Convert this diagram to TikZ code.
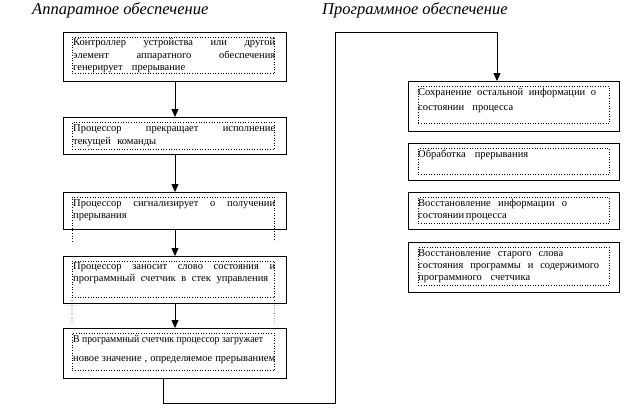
\documentclass[tikz,border=0pt]{standalone}
\usepackage{fontspec}
\usepackage{graphicx}
\setmainfont{Liberation Serif}
\usetikzlibrary{arrows.meta,calc}
\tikzset{
  obox/.style={draw, line width=1.1pt, anchor=north west, inner sep=0pt},
  dbox/.style={draw, dotted, line width=0.6pt, anchor=north west, inner sep=0pt},
  nbox/.style={anchor=north west, inner sep=0pt},
  txt/.style={anchor=north west, inner sep=0pt, font=\fontsize{10.5}{13}\selectfont, align=left},
  arr/.style={line width=0.8pt, -{Triangle[length=8pt,width=7pt]}},
  ttl/.style={font=\fontsize{16.5}{18}\selectfont\itshape, anchor=west, inner sep=0pt}
}
\newcommand\jl[2][202]{\makebox[#1pt][s]{#2}}
\newcommand\fitl[2]{\resizebox{#1pt}{\height}{#2}}
\begin{document}
\begin{tikzpicture}[x=1pt,y=-1pt]
\useasboundingbox (0,0) rectangle (625,408);
% titles
\node[ttl] (h1) at (32,10) {Аппаратное обеспечение};
\node[ttl] (h2) at (322,10) {Программное обеспечение};
% left column
\node[obox, minimum width=223pt, minimum height=49pt] (b1) at (63,32) {};
\node[dbox, minimum width=202pt, minimum height=36pt] (d1) at (72,37) {};
\node[txt] (t1) at (73,38.5) {\jl{Контроллер устройства или другой}\\[-0.5pt]\jl{элемент аппаратного обеспечения}\\[-0.5pt]\jl[112]{генерирует прерывание}};

\node[obox, minimum width=223pt, minimum height=37pt] (b2) at (63,117) {};
\node[dbox, minimum width=202pt, minimum height=27pt] (d2) at (72,122) {};
\node[txt] (t2) at (73,124) {\jl{Процессор прекращает исполнение}\\[0.5pt]\jl[83]{текущей команды}};

\node[obox, minimum width=223pt, minimum height=37pt] (b3) at (63,192) {};
\node[nbox, minimum width=202pt, minimum height=44pt] (d3) at (72,197) {};
\draw[dotted, line width=0.6pt] (d3.south west) -- (d3.north west) -- (d3.north east) -- (d3.south east);
\node[txt] (t3) at (73,199) {\jl{Процессор сигнализирует о получении}\\[-1pt]прерывания};

\node[obox, minimum width=223pt, minimum height=47pt] (b4) at (63,256) {};
\node[dbox, minimum width=202pt, minimum height=36pt] (d4) at (72,261) {};
\coordinate (e4l) at (72,324);
\coordinate (e4r) at (274,324);
\draw[dotted, line width=0.6pt] (d4.south west) -- (e4l) (d4.south east) -- (e4r);
\node[txt] (t4) at (73,262) {\jl{Процессор заносит слово состояния и}\\[-1pt]\jl[195]{программный счетчик в стек управления}};

\node[obox, minimum width=223pt, minimum height=50pt] (b5) at (63,328) {};
\node[dbox, minimum width=202pt, minimum height=37pt] (d5) at (72,333) {};
\node[txt] (t5) at (73,335) {\fitl{190}{В программный счетчик процессор загружает}\\[6pt]\jl{новое значение , определяемое прерыванием}};

% right column
\node[obox, minimum width=211pt, minimum height=50pt] (b6) at (408,81) {};
\node[dbox, minimum width=191pt, minimum height=37pt] (d6) at (418,86) {};
\node[txt] (t6) at (418,88) {\jl[178]{Сохранение остальной информации о}\\[2pt]\jl[95]{состоянии процесса}};

\node[obox, minimum width=211pt, minimum height=37pt] (b7) at (408,143) {};
\node[dbox, minimum width=191pt, minimum height=26pt] (d7) at (418,148) {};
\node[txt] (t7) at (418,150) {\jl[110]{Обработка прерывания}};

\node[obox, minimum width=211pt, minimum height=37pt] (b8) at (408,192) {};
\node[dbox, minimum width=191pt, minimum height=26pt] (d8) at (418,197) {};
\node[txt] (t8) at (418,199) {\jl[149]{Восстановление информации о}\\[-1pt]\jl[86]{состоянии процесса}};

\node[obox, minimum width=211pt, minimum height=50pt] (b9) at (408,242) {};
\node[dbox, minimum width=191pt, minimum height=38pt] (d9) at (418,247) {};
\node[txt] (t9) at (418,249) {\jl[145]{Восстановление старого слова}\\[-1pt]\jl[181]{состояния программы и содержимого}\\[-1pt]\jl[112]{программного счетчика}};

% arrows
\draw[arr] ($(b1.south west)+(112,0)$) -- ($(b2.north west)+(112,0)$);
\draw[arr] ($(b2.south west)+(112,0)$) -- ($(b3.north west)+(112,0)$);
\draw[arr] ($(b3.south west)+(112,0)$) -- ($(b4.north west)+(112,0)$);
\draw[arr] ($(b4.south west)+(112,0)$) -- ($(b5.north west)+(112,0)$);
\coordinate (c1) at (335,403);
\coordinate (c2) at (335,32);
\draw[arr] ($(b5.south west)+(100,0)$) |- (c1) -- (c2) -| ($(b6.north west)+(89,0)$);
\end{tikzpicture}
\end{document}
